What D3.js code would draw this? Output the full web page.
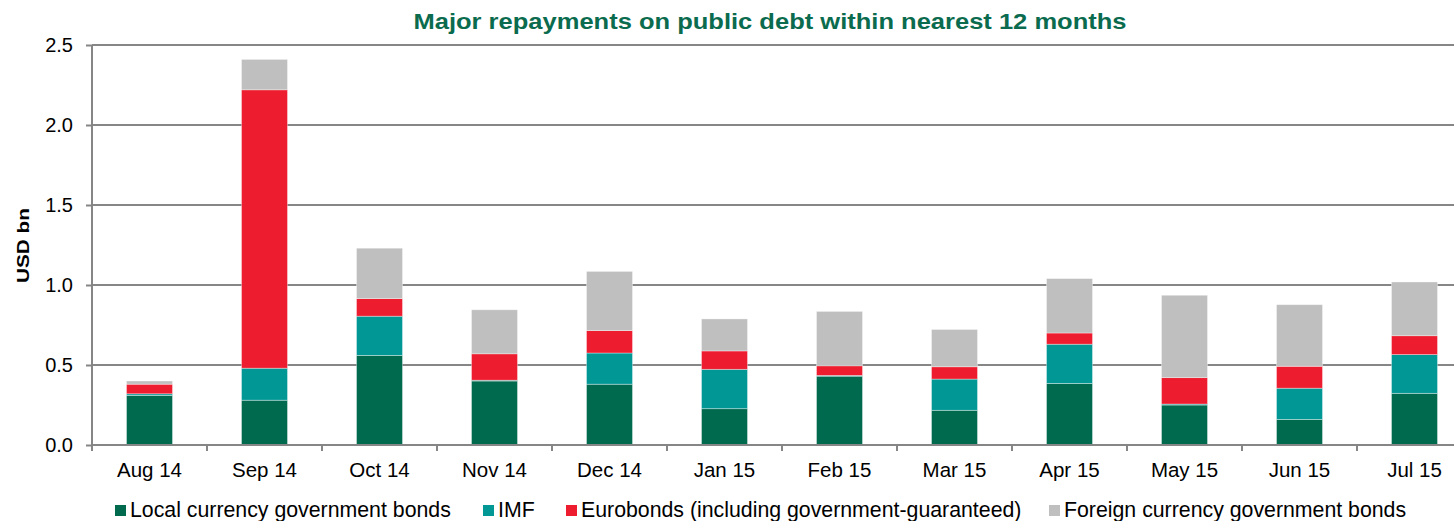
<!DOCTYPE html>
<html>
<head>
<meta charset="utf-8">
<script src="https://cdn.jsdelivr.net/npm/d3@7"></script>
<style>
  html, body { margin: 0; padding: 0; background: #fff; }
  svg { display: block; font-family: "Liberation Sans", Arial, sans-serif; }
</style>
</head>
<body>
<svg id="chart" width="1454" height="521"></svg>
<script>
const months = ["Aug 14","Sep 14","Oct 14","Nov 14","Dec 14","Jan 15","Feb 15","Mar 15","Apr 15","May 15","Jun 15","Jul 15"];
const seriesNames = ["Local currency government bonds","IMF","Eurobonds (including government-guaranteed)","Foreign currency government bonds"];
const seriesColors = ["#006A4E","#009795","#ED1C2E","#BFBFBF"];
const localBonds = [0.31,0.28,0.56,0.40,0.38,0.227,0.43,0.217,0.385,0.25,0.16,0.323];
const imf        = [0.01,0.20,0.245,0.005,0.195,0.246,0.005,0.195,0.245,0.006,0.195,0.242];
const eurobonds  = [0.06,1.74,0.11,0.165,0.14,0.115,0.06,0.077,0.07,0.165,0.137,0.118];
const foreign    = [0.02,0.19,0.315,0.275,0.37,0.20,0.34,0.233,0.34,0.515,0.385,0.336];
const yTicks = [0,0.5,1.0,1.5,2.0,2.5];
const title = "Major repayments on public debt within nearest 12 months";
const yTitle = "USD bn";

(function () {
const svg = d3.select("#chart");
const pLeft = 92, pRight = 1472, pTop = 45, pBottom = 445;
const gridColor = "#868686";

const x = d3.scaleBand().domain(months).range([pLeft, pRight]).padding(0);
const y = d3.scaleLinear().domain([0, 2.5]).range([pBottom, pTop]);

const rows = months.map((m, i) => ({ month: m, s0: localBonds[i], s1: imf[i], s2: eurobonds[i], s3: foreign[i] }));
const keys = ["s0","s1","s2","s3"];
const stacked = d3.stack().keys(keys)(rows);

// gridlines
svg.append("g").selectAll("line").data(yTicks.filter(t => t > 0)).join("line")
  .attr("x1", pLeft).attr("x2", 1454)
  .attr("y1", d => y(d)).attr("y2", d => y(d))
  .attr("stroke", gridColor).attr("stroke-width", 2);

// bars
const bw = x.bandwidth() * 0.4;
svg.append("g").selectAll("g").data(stacked).join("g")
  .attr("fill", (d, i) => seriesColors[i])
  .selectAll("rect").data(d => d).join("rect")
  .attr("x", d => x(d.data.month) + (x.bandwidth() - bw) / 2)
  .attr("width", bw)
  .attr("y", d => y(d[1]))
  .attr("height", d => y(d[0]) - y(d[1]))
  .attr("stroke", "#ffffff").attr("stroke-opacity", 0.45).attr("stroke-width", 0.8);

// y axis
const yAxis = d3.axisLeft(y).tickValues(yTicks).tickFormat(d3.format(".1f")).tickSize(6).tickPadding(13);
const gy = svg.append("g").attr("transform", `translate(${pLeft},0)`).call(yAxis);
gy.select(".domain").attr("stroke", gridColor).attr("stroke-width", 2).attr("d", `M0,${pTop}V${pBottom}`);
gy.selectAll(".tick line").attr("stroke", gridColor).attr("stroke-width", 2);
gy.selectAll(".tick text").attr("font-size", 20).attr("fill", "#000").attr("font-family", "Liberation Sans, Arial, sans-serif");

// x axis
const xAxis = d3.axisBottom(x).tickSize(0).tickPadding(17);
const gx = svg.append("g").attr("transform", `translate(0,${pBottom})`).call(xAxis);
gx.select(".domain").attr("stroke", gridColor).attr("stroke-width", 2).attr("d", `M${pLeft},0H1454`);
gx.selectAll(".tick text").attr("font-size", 20.5).attr("fill", "#000").attr("font-family", "Liberation Sans, Arial, sans-serif");
// x tick marks at band boundaries
svg.append("g").selectAll("line").data(months).join("line")
  .attr("x1", d => x(d)).attr("x2", d => x(d))
  .attr("y1", pBottom).attr("y2", pBottom + 6)
  .attr("stroke", gridColor).attr("stroke-width", 2);

// title
svg.append("text").attr("x", 770).attr("y", 29).attr("text-anchor", "middle")
  .attr("font-size", 22).attr("font-weight", "bold").attr("fill", "#0B6B4E")
  .attr("textLength", 713).attr("lengthAdjust", "spacingAndGlyphs").text(title);

// y title
svg.append("text").attr("transform", "translate(28.5,245.5) rotate(-90)").attr("text-anchor", "middle")
  .attr("font-size", 16.5).attr("font-weight", "bold").attr("fill", "#000")
  .attr("textLength", 75).attr("lengthAdjust", "spacingAndGlyphs").text(yTitle);

// legend
const legendX = [115, 483, 566, 1049];
const lg = svg.append("g").selectAll("g").data(seriesNames).join("g")
  .attr("transform", (d, i) => `translate(${legendX[i]},0)`);
lg.append("rect").attr("x", 0).attr("y", 505).attr("width", 11).attr("height", 11)
  .attr("fill", (d, i) => seriesColors[i]);
lg.append("text").attr("x", 15).attr("y", 517).attr("font-size", 21.3).attr("fill", "#000").text(d => d);
})();
</script>
</body>
</html>
